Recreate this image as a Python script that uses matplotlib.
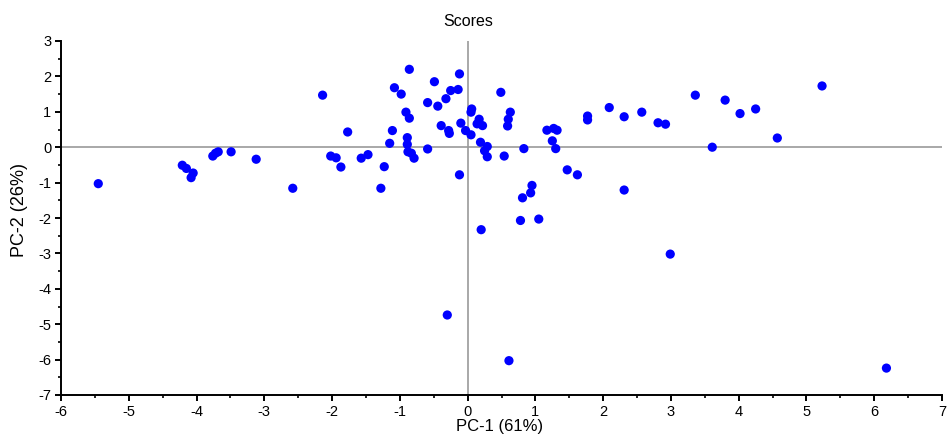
import numpy as np
import matplotlib.pyplot as plt
from matplotlib.ticker import MultipleLocator

plt.rcParams['font.family'] = ['Liberation Sans', 'DejaVu Sans']
plt.rcParams['axes.unicode_minus'] = False

# PCA score coordinates
pc1 = [-5.45, -4.21, -4.15, -4.05, -4.08, -3.76, -3.72, -3.68, -3.49, -3.12,
       -2.58, -2.14, -0.86, -0.12, -0.49, -1.08, -0.98, -0.25, -0.14, -0.32,
       -0.59, -0.44, 0.49, -0.91, -0.86, 0.06, 0.05, 0.63, 0.60, 0.59,
       -0.10, 0.17, 0.14, 0.22, -0.39, -0.28, -0.27, -0.03, 0.05, -1.11,
       -1.77, -1.15, -0.89, -0.89, -0.88, -0.83, -0.79, -0.59, -2.02, -1.94,
       -1.87, -1.57, -1.47, -1.23, -1.28, -0.12, 0.19, 0.29, 0.25, 0.29,
       0.54, 0.83, 0.20, 0.95, 0.93, 0.81, 0.78, 1.05, 1.47, 1.62,
       1.17, 1.27, 1.32, 1.25, 1.30, 1.77, 1.77, 2.09, 2.31, 2.31,
       2.57, 2.81, 2.92, 3.36, 3.80, 4.02, 4.25, 3.61, 4.57, 5.23,
       2.99, -0.30, 0.61, 6.18]
pc2 = [-1.03, -0.51, -0.60, -0.73, -0.86, -0.25, -0.17, -0.13, -0.13, -0.34,
       -1.16, 1.47, 2.20, 2.07, 1.85, 1.68, 1.50, 1.60, 1.63, 1.37,
       1.26, 1.16, 1.55, 0.99, 0.82, 1.08, 0.99, 0.99, 0.79, 0.60,
       0.68, 0.79, 0.66, 0.61, 0.61, 0.47, 0.39, 0.47, 0.35, 0.47,
       0.43, 0.11, 0.27, 0.08, -0.13, -0.17, -0.31, -0.05, -0.25, -0.30,
       -0.56, -0.31, -0.21, -0.55, -1.16, -0.78, 0.14, 0.02, -0.10, -0.27,
       -0.25, -0.04, -2.33, -1.08, -1.29, -1.43, -2.07, -2.03, -0.64, -0.78,
       0.48, 0.53, 0.48, 0.18, -0.04, 0.88, 0.77, 1.12, 0.86, -1.21,
       0.99, 0.69, 0.65, 1.47, 1.33, 0.95, 1.08, 0.00, 0.26, 1.73,
       -3.02, -4.74, -6.03, -6.24]

W, H = 947, 442
fig = plt.figure(figsize=(W / 100, H / 100), dpi=100)
ax = fig.add_axes([61 / W, 1 - 395 / H, 881 / W, 354 / H])

ax.axhline(0, color='#999999', lw=1.2, zorder=1)
ax.axvline(0, color='#999999', lw=1.2, zorder=1)
ax.scatter(pc1, pc2, s=44, color='#0000FF', edgecolors='none', zorder=3)

ax.set_xlim(-6, 7)
ax.set_ylim(-7, 3)
ax.xaxis.set_major_locator(MultipleLocator(1))
ax.xaxis.set_minor_locator(MultipleLocator(0.5))
ax.yaxis.set_major_locator(MultipleLocator(1))
ax.yaxis.set_minor_locator(MultipleLocator(0.5))

for side in ('top', 'right'):
    ax.spines[side].set_visible(False)
for side in ('left', 'bottom'):
    ax.spines[side].set_linewidth(1.4)
    ax.spines[side].set_color('black')

ax.tick_params(which='major', direction='out', length=4, width=1.4,
               labelsize=10.5, pad=3, colors='black')
ax.tick_params(which='minor', direction='out', length=2.5, width=1.2)

fig.text(468 / W, 1 - 21 / H, 'Scores', fontsize=11.5,
         ha='center', va='center')
ax.set_xlabel('PC-1 (61%)', fontsize=12, va='center', ha='center')
ax.set_ylabel('PC-2 (26%)', fontsize=13, va='center', ha='center')
ax.xaxis.set_label_coords(500 / W, 1 - 426 / H, transform=fig.transFigure)
ax.yaxis.set_label_coords(20 / W, 1 - 210 / H, transform=fig.transFigure)

fig.savefig('out.png', dpi=100)
